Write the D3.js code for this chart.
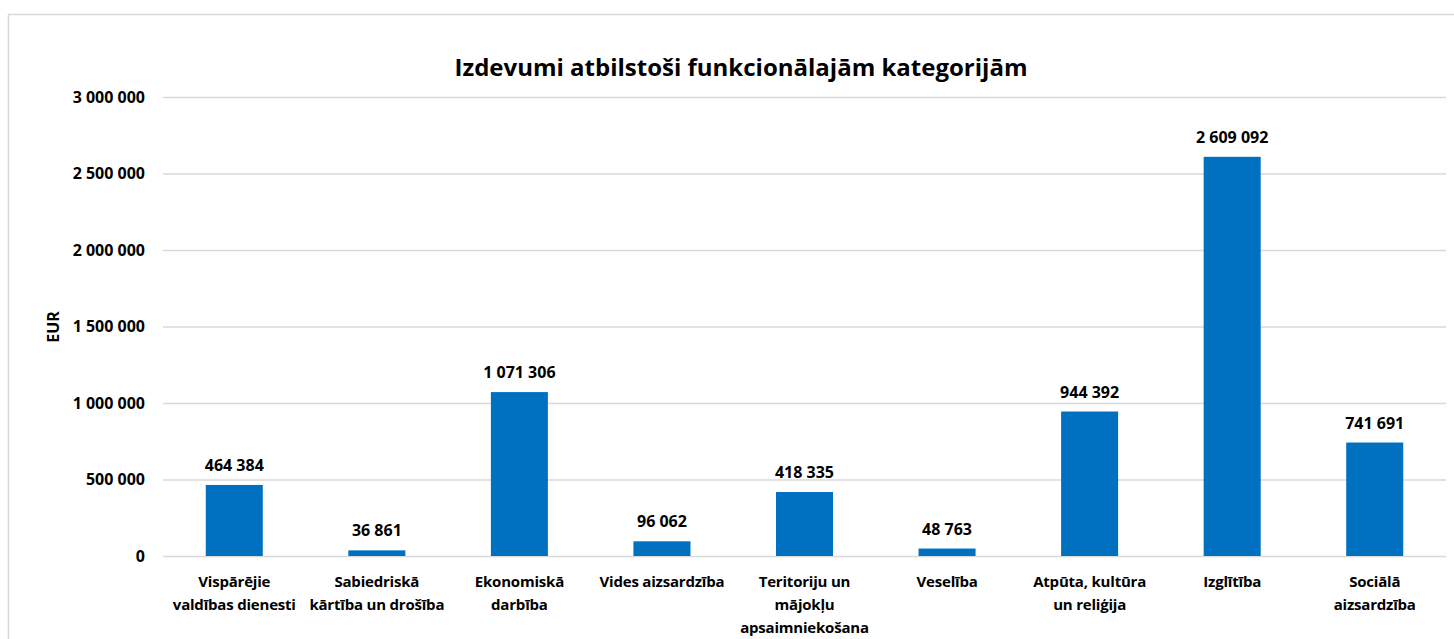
<!DOCTYPE html>
<html><head><meta charset="utf-8">
<script src="https://cdn.jsdelivr.net/npm/d3@7"></script>
<style>
body{margin:0;background:#fff;}
svg{display:block;font-family:"Open Sans", Lato, sans-serif;}
</style></head>
<body><svg id="c" width="1454" height="639"></svg>
<script>
const categories = ["Vispārējie\nvaldības dienesti","Sabiedriskā\nkārtība un drošība","Ekonomiskā\ndarbība","Vides aizsardzība","Teritoriju un\nmājokļu\napsaimniekošana","Veselība","Atpūta, kultūra\nun reliģija","Izglītība","Sociālā\naizsardzība"];
const values = [464384,36861,1071306,96062,418335,48763,944392,2609092,741691];
const yTicks = [0,500000,1000000,1500000,2000000,2500000,3000000];
const title = "Izdevumi atbilstoši funkcionālajām kategorijām";
const yTitle = "EUR";

const fmt = v => d3.format(",")(v).replace(/,/g, " ");
const svg = d3.select("#c");
const m = {l:163, r:1446, t:97, b:556};
svg.append("rect").attr("x",8.5).attr("y",14.5).attr("width",1460).attr("height",640)
  .attr("fill","#fff").attr("stroke","#d9d9d9").attr("stroke-width",1.5);

const x = d3.scaleBand().domain(categories).range([m.l,m.r]).paddingInner(0.6).paddingOuter(0.3);
const y = d3.scaleLinear().domain([0,3000000]).range([m.b,m.t]);

const ya = svg.append("g").attr("transform",`translate(${m.l},0)`)
  .call(d3.axisLeft(y).tickValues(yTicks).tickFormat(fmt).tickSize(-(m.r-m.l)).tickPadding(18));
ya.select(".domain").remove();
ya.selectAll(".tick line").attr("stroke","#d9d9d9").attr("stroke-width",1.5);
ya.selectAll(".tick text").attr("font-size",16).attr("font-weight","bold").attr("fill","#000")
  .attr("font-family","'Open Sans', sans-serif");

svg.append("g").selectAll("text").data(values).join("text")
  .attr("x",(d,i)=>x(categories[i])+x.bandwidth()/2).attr("y",d=>y(d)-14)
  .attr("text-anchor","middle").attr("font-size",16).attr("font-weight","bold").attr("fill","#000")
  .text(fmt);

svg.append("g").selectAll("rect").data(values).join("rect")
  .attr("x",(d,i)=>x(categories[i])).attr("width",x.bandwidth())
  .attr("y",d=>y(d)).attr("height",d=>y(0)-y(d)).attr("fill","#0070c0");

const xl = svg.append("g");
categories.forEach(c=>{
  const t = xl.append("text").attr("x",x(c)+x.bandwidth()/2).attr("y",587)
    .attr("text-anchor","middle").attr("font-size",15).attr("font-weight","bold").attr("fill","#000")
    .attr("letter-spacing",-0.2);
  c.split("\n").forEach((ln,j)=>t.append("tspan").attr("x",x(c)+x.bandwidth()/2).attr("dy",j?23:0).text(ln));
});

svg.append("text").attr("x",741).attr("y",76).attr("text-anchor","middle")
  .attr("font-size",24).attr("font-weight","bold").attr("fill","#000").text(title);
svg.append("text").attr("transform","translate(59,327) rotate(-90)").attr("text-anchor","middle")
  .attr("font-size",16).attr("font-weight","bold").attr("fill","#000").text(yTitle);
</script></body></html>
